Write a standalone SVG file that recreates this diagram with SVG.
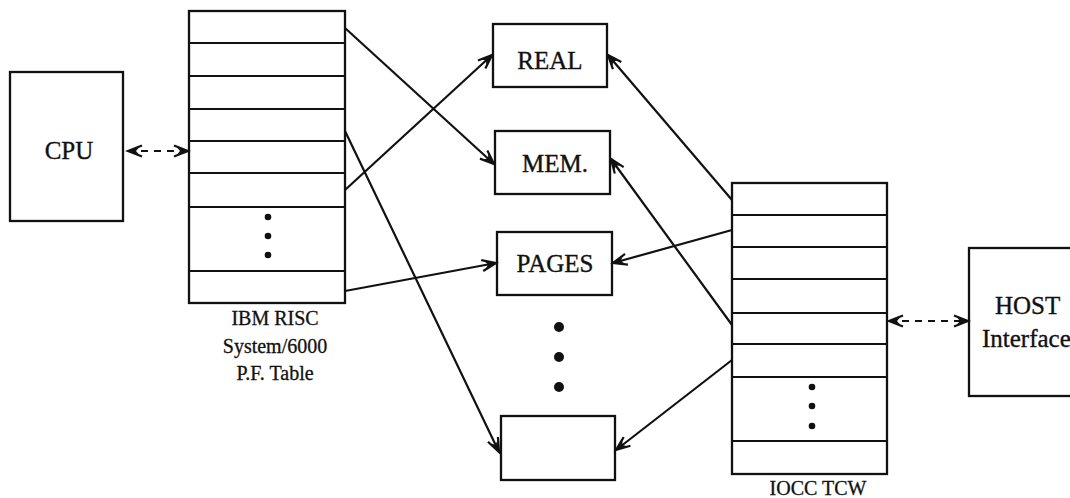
<svg xmlns="http://www.w3.org/2000/svg" width="1070" height="498" viewBox="0 0 1070 498">
  <style>
    .box { fill: none; stroke: #111; stroke-width: 2.3; }
    .row { stroke: #111; stroke-width: 2.2; }
    .lbl { font-family: "Liberation Serif", "Times New Roman", serif; font-size: 25px; fill: #111; stroke: #111; stroke-width: 0.35; }
    .cap { font-family: "Liberation Serif", "Times New Roman", serif; font-size: 20px; fill: #111; stroke: #111; stroke-width: 0.3; text-anchor: middle; }
    .link { stroke: #111; stroke-width: 2.2; fill: none; marker-end: url(#barb); }
    .dash { stroke: #111; stroke-width: 2.2; fill: none; stroke-dasharray: 7 6; marker-start: url(#barbStart); marker-end: url(#barb); }
    .dot { fill: #111; }
  </style>
  <defs>
    <marker id="barb" markerUnits="userSpaceOnUse" markerWidth="20" markerHeight="16" viewBox="-16 -8 20 16" refX="0" refY="0" orient="auto">
      <path d="M-14,-5.5 L0,0 L-14,5.5" fill="none" stroke="#111" stroke-width="2.2"/>
      <path d="M0,0 L-11,-3.5 L-8,0 L-11,3.5 Z" fill="#111"/>
    </marker>
    <marker id="barbStart" markerUnits="userSpaceOnUse" markerWidth="20" markerHeight="16" viewBox="-4 -8 20 16" refX="0" refY="0" orient="auto">
      <path d="M14,-5.5 L0,0 L14,5.5" fill="none" stroke="#111" stroke-width="2.2"/>
      <path d="M0,0 L11,-3.5 L8,0 L11,3.5 Z" fill="#111"/>
    </marker>
  </defs>

  <rect x="0" y="0" width="1070" height="498" fill="#ffffff"/>

  <!-- CPU -->
  <g id="cpu">
    <rect class="box" x="10" y="72" width="113" height="149"/>
    <text class="lbl" x="69" y="159" text-anchor="middle">CPU</text>
  </g>

  <!-- page frame table -->
  <g id="pf-table">
    <rect class="box" x="189" y="11" width="156" height="292"/>
    <line class="row" x1="189" y1="43" x2="345" y2="43"/>
    <line class="row" x1="189" y1="76" x2="345" y2="76"/>
    <line class="row" x1="189" y1="109" x2="345" y2="109"/>
    <line class="row" x1="189" y1="141" x2="345" y2="141"/>
    <line class="row" x1="189" y1="173" x2="345" y2="173"/>
    <line class="row" x1="189" y1="207" x2="345" y2="207"/>
    <line class="row" x1="189" y1="271" x2="345" y2="271"/>
    <circle class="dot" cx="268" cy="217" r="3.3"/>
    <circle class="dot" cx="268" cy="236" r="3.3"/>
    <circle class="dot" cx="268" cy="255" r="3.3"/>
    <text class="cap" x="275" y="325">IBM RISC</text>
    <text class="cap" x="275" y="353">System/6000</text>
    <text class="cap" x="275" y="380">P.F. Table</text>
  </g>

  <!-- memory pages -->
  <g id="real">
    <rect class="box" x="493" y="24" width="114" height="63"/>
    <text class="lbl" x="550" y="69" text-anchor="middle">REAL</text>
  </g>
  <g id="mem">
    <rect class="box" x="495" y="131" width="115" height="63"/>
    <text class="lbl" x="555" y="172" text-anchor="middle">MEM.</text>
  </g>
  <g id="pages">
    <rect class="box" x="497" y="232" width="115" height="63"/>
    <text class="lbl" x="555" y="272" text-anchor="middle">PAGES</text>
  </g>
  <g id="more-pages">
    <circle class="dot" cx="559" cy="327" r="5"/>
    <circle class="dot" cx="559" cy="357" r="5"/>
    <circle class="dot" cx="559" cy="387" r="5"/>
  </g>
  <g id="page-n">
    <rect class="box" x="501" y="416" width="114" height="64"/>
  </g>

  <!-- translation control word table -->
  <g id="tcw-table">
    <rect class="box" x="732" y="183" width="155" height="291"/>
    <line class="row" x1="732" y1="215" x2="887" y2="215"/>
    <line class="row" x1="732" y1="247" x2="887" y2="247"/>
    <line class="row" x1="732" y1="279" x2="887" y2="279"/>
    <line class="row" x1="732" y1="313" x2="887" y2="313"/>
    <line class="row" x1="732" y1="344" x2="887" y2="344"/>
    <line class="row" x1="732" y1="377" x2="887" y2="377"/>
    <line class="row" x1="732" y1="441" x2="887" y2="441"/>
    <circle class="dot" cx="812" cy="387" r="3.3"/>
    <circle class="dot" cx="812" cy="406" r="3.3"/>
    <circle class="dot" cx="812" cy="426" r="3.3"/>
    <text class="cap" x="818" y="495">IOCC TCW</text>
  </g>

  <!-- host interface -->
  <g id="host">
    <rect class="box" x="969" y="248" width="120" height="148"/>
    <text class="lbl" x="995" y="314">HOST</text>
    <text class="lbl" x="982" y="347">Interface</text>
  </g>

  <!-- connectors -->
  <g id="connectors">
    <line class="dash" x1="128" y1="151" x2="188" y2="151"/>
    <line class="dash" x1="889" y1="321" x2="968" y2="321"/>
    <line class="link" x1="345" y1="28" x2="494" y2="164"/>
    <line class="link" x1="345" y1="190" x2="492" y2="55"/>
    <line class="link" x1="345" y1="131" x2="499" y2="452"/>
    <line class="link" x1="345" y1="291" x2="496" y2="263"/>
    <line class="link" x1="732" y1="200" x2="608" y2="55"/>
    <line class="link" x1="732" y1="230" x2="613" y2="263"/>
    <line class="link" x1="732" y1="325" x2="611" y2="159"/>
    <line class="link" x1="732" y1="360" x2="616" y2="450"/>
  </g>
</svg>
